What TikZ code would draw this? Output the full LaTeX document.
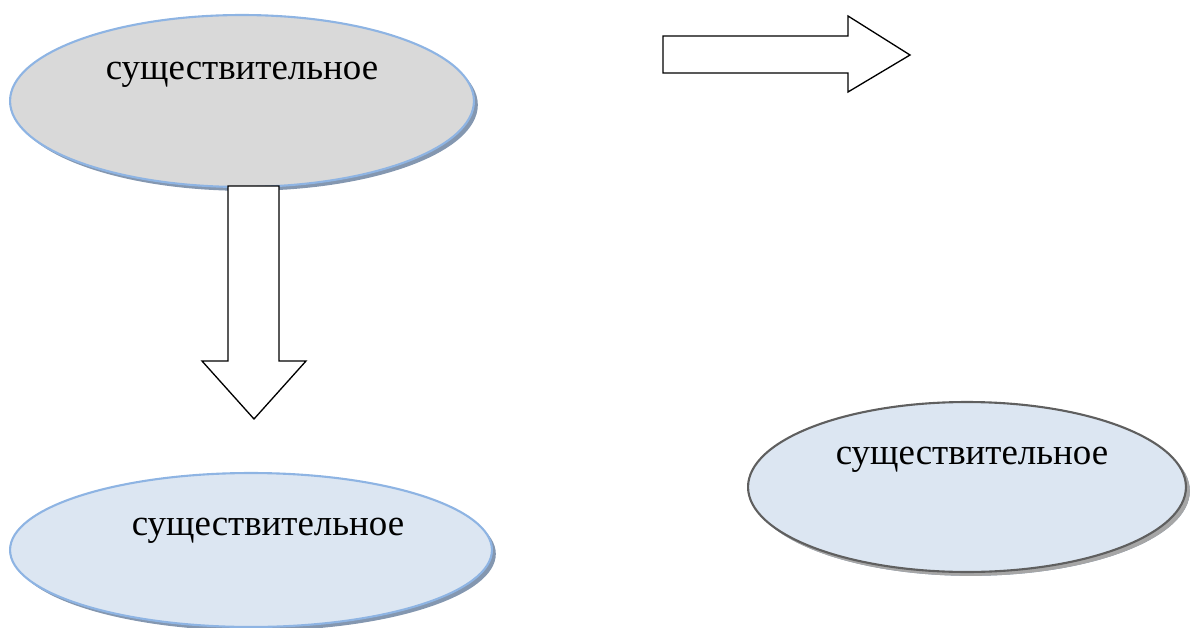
\documentclass[tikz,border=0pt]{standalone}
\usepackage{fontspec}
\setmainfont{Liberation Serif}
\usetikzlibrary{shapes.geometric,shadows}
\definecolor{nounGray}{HTML}{D9D9D9}
\definecolor{nounBlue}{HTML}{DCE6F2}
\definecolor{rimBlue}{HTML}{8EB4E3}
\definecolor{shadeBlue}{HTML}{8497B0}
\definecolor{rimGray}{HTML}{5F5F5F}
\definecolor{shadeGray}{HTML}{A6A6A6}
\begin{document}
\begin{tikzpicture}[x=0.02cm, y=-0.02cm,
    noun/.style={shape=ellipse, draw=rimBlue, line width=1.2pt, inner sep=0pt,
      drop shadow={shadow xshift=2.2pt, shadow yshift=-2.2pt, fill=shadeBlue, opacity=1}},
    word/.style={font=\fontsize{21}{24}\selectfont, inner sep=0pt},
    blockarrow/.style={draw=black, fill=white, line width=0.75pt, line join=miter}]
      \useasboundingbox (0,0) rectangle (1192,628);

      \node[noun, fill=nounGray, minimum width=9.28cm, minimum height=3.44cm] (noun1) at (242,101) {};
      \node[noun, fill=nounBlue, minimum width=9.64cm, minimum height=3.08cm] (noun2) at (251,550) {};
      \node[noun, fill=nounBlue, draw=rimGray, minimum width=8.76cm, minimum height=3.4cm,
        drop shadow={shadow xshift=2.2pt, shadow yshift=-2.2pt, fill=shadeGray, opacity=1}] (noun3) at (967,487) {};

      \node[word] (word1) at (242,75) {существительное};
      \node[word] (word2) at (268,531) {существительное};
      \node[word] (word3) at (972,460) {существительное};

      % block arrows
      \draw[blockarrow] (663,36) -- (848,36) -- (848,16) -- (910,55) -- (848,92) -- (848,73) -- (663,73) -- cycle;
      \draw[blockarrow] (228,186) -- (279,186) -- (279,361) -- (306,361) -- (254,419) -- (202,361) -- (228,361) -- cycle;

      \end{tikzpicture}
\end{document}
